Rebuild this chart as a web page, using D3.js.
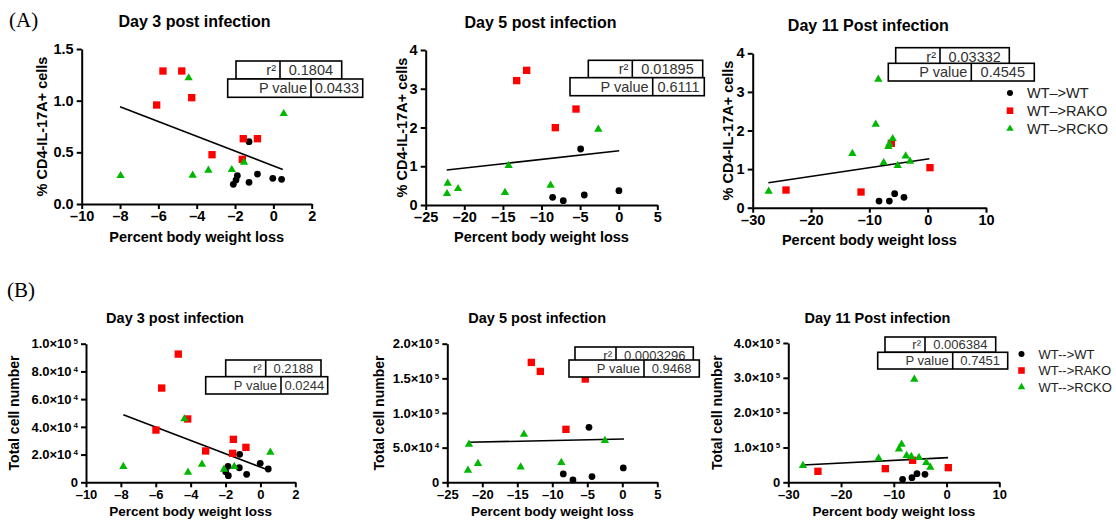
<!DOCTYPE html>
<html>
<head>
<meta charset="utf-8">
<script src="https://cdnjs.cloudflare.com/ajax/libs/d3/7.8.5/d3.min.js"></script>
<style>
body { margin: 0; background: #fff; }
svg { display: block; font-family: "Liberation Sans", Arial, sans-serif; }
</style>
</head>
<body>
<svg id="fig" width="1116" height="522"></svg>
<script>
// legend names
const legendTop = ["WT\u2013>WT", "WT\u2013>RAKO", "WT\u2013>RCKO"];
const legendBottom = ["WT-->WT", "WT-->RAKO", "WT-->RCKO"];

// (A) % CD4-IL-17A+ cells vs percent body weight loss
const a_d3_wt   = [[-1.27,0.603],[-1.88,0.274],[-1.95,0.232],[-2.09,0.19],[-1.27,0.21],[-0.83,0.29],[-0.03,0.248],[0.43,0.239]];
const a_d3_rako = [[-5.76,1.287],[-4.78,1.287],[-4.26,1.029],[-6.09,0.958],[-1.57,0.632],[-0.83,0.632],[-3.2,0.477],[-1.62,0.432]];
const a_d3_rcko = [[-4.42,1.22],[0.54,0.874],[-7.97,0.274],[-4.21,0.277],[-3.39,0.326],[-2.17,0.332],[-1.53,0.403]];
const a_d3_fit  = [[-8.0,0.942],[0.49,0.335]];
const a_d3_stats = ["0.1804", "0.0433"];

const a_d5_wt   = [[-4.93,1.445],[-8.56,0.198],[-7.18,0.112],[-4.46,0.258],[0.03,0.37]];
const a_d5_rako = [[-11.92,3.475],[-13.22,3.21],[-5.53,2.477],[-8.21,1.996]];
const a_d5_rcko = [[-2.64,1.953],[-14.25,1.015],[-22.15,0.559],[-22.24,0.292],[-20.81,0.421],[-14.73,0.318],[-8.82,0.508]];
const a_d5_fit  = [[-22.28,0.903],[0.07,1.40]];
const a_d5_stats = ["0.01895", "0.6111"];

const a_d11_wt   = [[-8.34,0.173],[-6.57,0.173],[-5.66,0.363],[-4.06,0.268]];
const a_d11_rako = [[-24.29,0.458],[-11.43,0.406],[-6.23,1.667],[0.4,1.037]];
const a_d11_rcko = [[-8.46,3.326],[-8.91,2.16],[-6.0,1.788],[-6.57,1.65],[-6.74,1.58],[-12.91,1.40],[-3.77,1.339],[-7.54,1.166],[-5.14,1.089],[-3.03,1.2],[-27.26,0.423]];
const a_d11_fit  = [[-27.31,0.648],[0.29,1.27]];
const a_d11_stats = ["0.03332", "0.4545"];

// (B) total cell number vs percent body weight loss
const b_d3_wt   = [[-1.19,20200],[-1.86,11500],[-1.99,7600],[-1.84,4800],[-1.21,10500],[-0.79,5800],[-0.01,13700],[0.45,9600]];
const b_d3_rako = [[-4.71,92500],[-5.66,68000],[-4.17,45700],[-5.99,37700],[-1.55,31000],[-0.83,25200],[-3.14,22600],[-1.59,20900]];
const b_d3_rcko = [[-4.36,45700],[0.57,21600],[-7.86,11300],[-4.15,7200],[-3.35,13000],[-2.09,9400],[-1.5,11300]];
const b_d3_fit  = [[-7.86,48800],[0.45,8900]];
const b_d3_stats = ["0.2188", "0.0244"];

const b_d5_wt   = [[-4.76,79300],[-8.43,12000],[-7.05,3400],[-4.33,8200],[0.14,20700]];
const b_d5_rako = [[-13.0,173000],[-11.71,160000],[-5.29,149000],[-8.05,76400]];
const b_d5_rcko = [[-2.48,60100],[-14.05,69200],[-21.9,54800],[-22.05,17300],[-20.62,26900],[-14.52,22100],[-8.71,28400]];
const b_d5_fit  = [[-22.05,57700],[0.24,62500]];
const b_d5_stats = ["0.0003296", "0.9468"];

const b_d11_wt   = [[-8.33,8600],[-6.56,13400],[-5.61,24900],[-4.09,23000]];
const b_d11_rako = [[-24.38,31600],[-11.61,39200],[-6.43,63200],[0.33,42100]];
const b_d11_rcko = [[-6.11,295700],[-8.52,109000],[-9.02,95700],[-7.57,76600],[-6.68,73700],[-5.23,70800],[-12.88,68900],[-3.84,56500],[-3.08,43100],[-27.22,47800]];
const b_d11_fit  = [[-27.22,49800],[0.29,70800]];
const b_d11_stats = ["0.006384", "0.7451"];

// tick values
const xticks_d3 = [-10,-8,-6,-4,-2,0,2];
const xticks_d5 = [-25,-20,-15,-10,-5,0,5];
const xticks_d11 = [-30,-20,-10,0,10];
const yticks_a_d3 = [0,0.5,1.0,1.5];
const yticks_a_d5 = [0,1,2,3,4];
const yticks_a_d11 = [0,1,2,3,4];
const yticks_b_d3 = [0,2e4,4e4,6e4,8e4,1e5];
const yticks_b_d5 = [0,5e4,1e5,1.5e5,2e5];
const yticks_b_d11 = [0,1e5,2e5,3e5,4e5];

const colors = ["#000000", "#ff0000", "#00b800"];
const shapes = [d3.symbolCircle, d3.symbolSquare, d3.symbolTriangle];
const shapeSize = [36, 54, 30];

const svg = d3.select("#fig");
svg.append("rect").attr("width", 1116).attr("height", 522).attr("fill", "#fff");

// panel letters
svg.append("text").attr("x", 9).attr("y", 27).attr("font-family", "'Liberation Serif', 'Times New Roman', serif")
  .attr("font-size", 21).text("(A)");
svg.append("text").attr("x", 7).attr("y", 297).attr("font-family", "'Liberation Serif', 'Times New Roman', serif")
  .attr("font-size", 21).text("(B)");

const dash = v => v < 0 ? "\u2013" + Math.abs(v) : String(v);

function sciLabels(sel) {
  sel.each(function(d) {
    const t = d3.select(this);
    t.text(null);
    if (d === 0) { t.text("0"); return; }
    const e = Math.floor(Math.log10(d) + 1e-9);
    const m = d / Math.pow(10, e);
    t.append("tspan").text(m.toFixed(1) + "\u00d710");
    t.append("tspan").attr("dx", 2).attr("dy", -4).attr("font-size", 8).text(e);
  });
}

const panels = [
  { series: [a_d3_wt, a_d3_rako, a_d3_rcko], fit: a_d3_fit, stats: a_d3_stats,
    xticks: xticks_d3, yticks: yticks_a_d3, yfmt: d3.format(".1f"), sci: false,
    box: [81.7, 311.7, 204, 49], title: "Day 3 post infection", tx: 194.5, ty: 27, ts: 16,
    ylab: "% CD4-IL-17A+ cells", ylx: 46.5, yls: 14.5, xlDy: 38, xls: 14.5, tks: 14.5,
    r: [236, 280, 341.7, 61, 79], p: [227.7, 311, 362.7, 79, 97.3], sfs: 14.5 },
  { series: [a_d5_wt, a_d5_rako, a_d5_rcko], fit: a_d5_fit, stats: a_d5_stats,
    xticks: xticks_d5, yticks: yticks_a_d5, yfmt: d3.format("d"), sci: false,
    box: [425.7, 657.3, 205, 50], title: "Day 5 post infection", tx: 540.5, ty: 27.7, ts: 16,
    ylab: "% CD4-IL-17A+ cells", ylx: 406.5, yls: 14.5, xlDy: 37.3, xls: 14.5, tks: 14.5,
    r: [588.3, 632.3, 702.7, 60.3, 77.7], p: [570, 652.7, 704.3, 77.7, 95.7], sfs: 14.5 },
  { series: [a_d11_wt, a_d11_rako, a_d11_rcko], fit: a_d11_fit, stats: a_d11_stats,
    xticks: xticks_d11, yticks: yticks_a_d11, yfmt: d3.format("d"), sci: false,
    box: [752.7, 986, 207.7, 53.3], title: "Day 11 Post infection", tx: 868.3, ty: 31, ts: 16,
    ylab: "% CD4-IL-17A+ cells", ylx: 733, yls: 14.5, xlDy: 37.3, xls: 14.5, tks: 14.5,
    r: [895.7, 940, 1009.3, 47.7, 65.7], p: [888.3, 971.3, 1034.3, 63.3, 81], sfs: 14.5,
    legend: legendTop, lx: 1010, ly: [93, 110.7, 128.7], lfs: 14.5 },
  { series: [b_d3_wt, b_d3_rako, b_d3_rcko], fit: b_d3_fit, stats: b_d3_stats,
    xticks: xticks_d3, yticks: yticks_b_d3, sci: true,
    box: [86, 295.3, 482.3, 343.7], title: "Day 3 post infection", tx: 175, ty: 323.3, ts: 14.5,
    ylab: "Total cell number", ylx: 18.5, yls: 14, xlDy: 33.7, xls: 13.5, tks: 13,
    r: [225.7, 265.7, 321, 360, 376.7], p: [205.7, 281, 327.7, 376.7, 394], sfs: 13 },
  { series: [b_d5_wt, b_d5_rako, b_d5_rcko], fit: b_d5_fit, stats: b_d5_stats,
    xticks: xticks_d5, yticks: yticks_b_d5, sci: true,
    box: [447.3, 657.3, 482.3, 343.7], title: "Day 5 post infection", tx: 537.2, ty: 323, ts: 14.5,
    ylab: "Total cell number", ylx: 383.5, yls: 14, xlDy: 33.7, xls: 13.5, tks: 13,
    r: [575, 616, 693.3, 347, 363], p: [569, 644, 699.3, 360, 377], sfs: 13 },
  { series: [b_d11_wt, b_d11_rako, b_d11_rcko], fit: b_d11_fit, stats: b_d11_stats,
    xticks: xticks_d11, yticks: yticks_b_d11, sci: true,
    box: [788.3, 999.3, 482.3, 343], title: "Day 11 Post infection", tx: 877.5, ty: 323, ts: 14.5,
    ylab: "Total cell number", ylx: 721.5, yls: 14, xlDy: 33.7, xls: 13.5, tks: 13,
    r: [885, 925, 995.7, 337, 352.3], p: [877.7, 952.7, 1007.7, 352.3, 369], sfs: 13,
    legend: legendBottom, lx: 1021.5, ly: [354, 370.5, 387], lfs: 13 }
];

panels.forEach(p => {
  const [x0, x1, y0, y1] = p.box;
  const x = d3.scaleLinear().domain([p.xticks[0], p.xticks[p.xticks.length - 1]]).range([x0, x1]);
  const y = d3.scaleLinear().domain([p.yticks[0], p.yticks[p.yticks.length - 1]]).range([y0, y1]);
  const g = svg.append("g");

  // title
  g.append("text").attr("x", p.tx).attr("y", p.ty).attr("text-anchor", "middle")
    .attr("font-weight", "bold").attr("font-size", p.ts).text(p.title);

  // axes
  const xa = g.append("g").attr("transform", `translate(0,${y0})`)
    .call(d3.axisBottom(x).tickValues(p.xticks).tickSize(5).tickSizeOuter(0).tickPadding(2).tickFormat(dash));
  const ya = g.append("g").attr("transform", `translate(${x0},0)`)
    .call(d3.axisLeft(y).tickValues(p.yticks).tickSize(5).tickSizeOuter(0).tickPadding(3)
      .tickFormat(p.sci ? (d => d) : p.yfmt));
  [xa, ya].forEach(a => {
    a.attr("font-family", null).attr("font-size", p.tks).attr("font-weight", "bold");
    a.select(".domain").attr("stroke-width", 2).attr("stroke", "#000");
    a.selectAll(".tick line").attr("stroke-width", 2).attr("stroke", "#000");
    a.selectAll(".tick text").attr("fill", "#000");
  });
  if (p.sci) ya.selectAll(".tick text").call(sciLabels);

  // axis titles
  g.append("text").attr("x", (x0 + x1) / 2).attr("y", y0 + p.xlDy).attr("text-anchor", "middle")
    .attr("font-weight", "bold").attr("font-size", p.xls).text("Percent body weight loss");
  g.append("text").attr("transform", `translate(${p.ylx},${(y0 + y1) / 2}) rotate(-90)`)
    .attr("text-anchor", "middle").attr("font-weight", "bold").attr("font-size", p.yls).text(p.ylab);

  // regression line
  g.append("path").datum(p.fit)
    .attr("d", d3.line().x(d => x(d[0])).y(d => y(d[1])))
    .attr("fill", "none").attr("stroke", "#000").attr("stroke-width", 1.6);

  // points
  p.series.forEach((s, i) => {
    g.append("g").selectAll("path").data(s).enter().append("path")
      .attr("transform", d => `translate(${x(d[0])},${y(d[1])})`)
      .attr("d", d3.symbol().type(shapes[i]).size(shapeSize[i]))
      .attr("fill", colors[i]);
  });

  // stats table
  const rows = [[p.r, "r\u00b2", p.stats[0]], [p.p, "P value", p.stats[1]]];
  rows.forEach(([b, lab, val]) => {
    const [bx0, bdiv, bx1, by0, by1] = b;
    g.append("rect").attr("x", bx0).attr("y", by0).attr("width", bx1 - bx0).attr("height", by1 - by0)
      .attr("fill", "#fff").attr("stroke", "#000").attr("stroke-width", 1.6);
    g.append("line").attr("x1", bdiv).attr("x2", bdiv).attr("y1", by0).attr("y2", by1)
      .attr("stroke", "#000").attr("stroke-width", 1.6);
    const cy = (by0 + by1) / 2;
    g.append("text").attr("x", bdiv - 4).attr("y", cy).attr("dy", "0.36em").attr("text-anchor", "end")
      .attr("font-size", p.sfs).attr("fill", "#333").text(lab);
    g.append("text").attr("x", (bdiv + bx1) / 2).attr("y", cy).attr("dy", "0.36em").attr("text-anchor", "middle")
      .attr("font-size", p.sfs).attr("fill", "#333").text(val);
  });

  // legend
  if (p.legend) {
    p.legend.forEach((name, i) => {
      g.append("path").attr("transform", `translate(${p.lx},${p.ly[i]})`)
        .attr("d", d3.symbol().type(shapes[i]).size(shapeSize[i] * 0.8)).attr("fill", colors[i]);
      g.append("text").attr("x", p.lx + 17).attr("y", p.ly[i]).attr("dy", "0.36em")
        .attr("font-size", p.lfs).attr("fill", "#222").text(name);
    });
  }
});
</script>
</body>
</html>
